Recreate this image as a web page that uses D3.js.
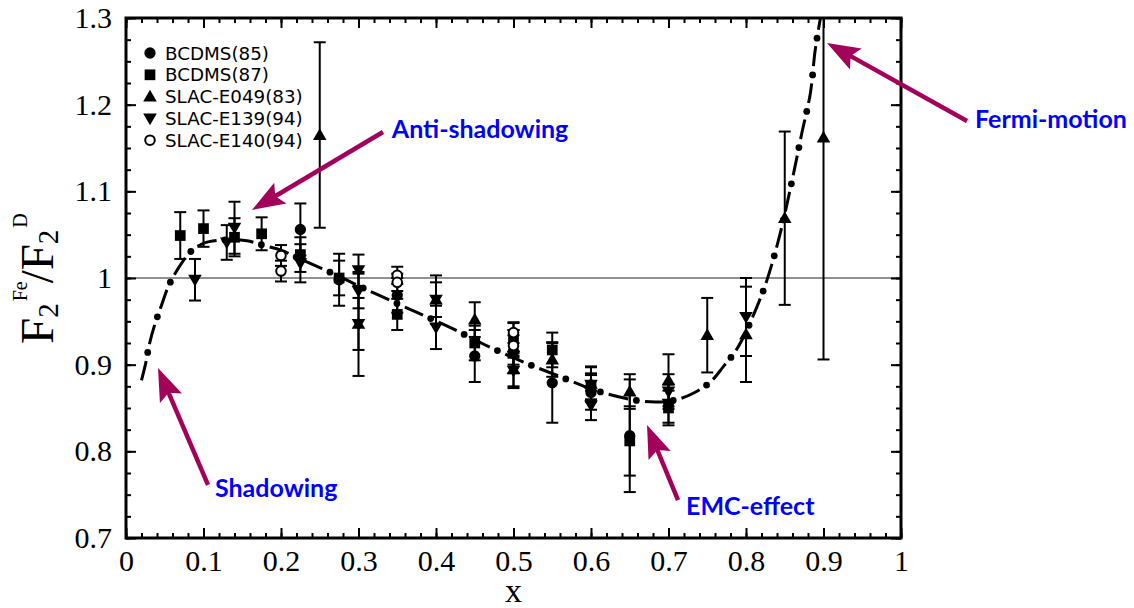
<!DOCTYPE html>
<html>
  <head>
    <meta charset="UTF-8">
    <title>F2 Fe / F2 D</title>
    <script src="https://d3js.org/d3.v7.min.js"></script>
    <style>
      body { margin: 0; background: #fff; }
    </style>
  </head>
  <body>
    <div id="chart-container"></div>
  <script type="text/javascript">

    // data: [x, ratio, error]
    const bcdms85 = [[0.225,1.056,0.03],[0.275,0.998,0.03],[0.35,0.980,0.02],[0.45,0.910,0.03],
                     [0.5,0.915,0.025],[0.55,0.879,0.046],[0.6,0.868,0.02],[0.65,0.818,0.065]];
    const bcdms87 = [[0.07,1.049,0.027],[0.1,1.057,0.021],[0.14,1.047,0.022],[0.175,1.051,0.019],
                     [0.225,1.027,0.02],[0.275,1.0,0.02],[0.35,0.958,0.018],[0.45,0.925,0.02],
                     [0.5,0.928,0.02],[0.55,0.917,0.02],[0.6,0.875,0.015],[0.65,0.812,0.04],[0.7,0.85,0.02]];
    const slac049 = [[0.25,1.165,0.107],[0.3,0.947,0.06],[0.4,0.975,0.028],[0.45,0.952,0.02],
                     [0.5,0.92,0.02],[0.5,0.895,0.02],[0.55,0.906,0.02],[0.6,0.878,0.02],[0.65,0.869,0.02],
                     [0.7,0.882,0.03],[0.75,0.934,0.043],[0.8,0.935,0.055],[0.85,1.069,0.1],[0.9,1.162,0.256]];
    const slac139 = [[0.089,0.998,0.024],[0.13,1.041,0.02],[0.14,1.058,0.03],[0.225,1.017,0.022],
                     [0.3,1.009,0.018],[0.3,0.985,0.02],[0.3,0.947,0.03],[0.4,0.975,0.02],[0.4,0.943,0.025],
                     [0.5,0.893,0.02],[0.6,0.877,0.02],[0.6,0.853,0.017],[0.7,0.869,0.02],
                     [0.7,0.855,0.022],[0.8,0.955,0.045]];
    const slac140 = [[0.2,1.026,0.012],[0.2,1.008,0.012],[0.35,1.003,0.01],[0.35,0.995,0.01],
                     [0.5,0.937,0.012],[0.5,0.922,0.012]];

    // theory curve
    const curveX = [0.02,0.025,0.03,0.037,0.046,0.055,0.068,0.083,0.1,0.13,0.156,0.18,0.2,0.225,0.25,
                    0.276,0.3,0.324,0.371,0.418,0.463,0.51,0.558,0.607,0.657,0.685,0.708,0.732,0.754,
                    0.771,0.786,0.799,0.82,0.829,0.844,0.861,0.872,0.883,0.889,0.893,0.897];
    const curveY = [0.882,0.90,0.923,0.946,0.969,0.991,1.012,1.030,1.040,1.044,1.043,1.037,1.032,1.022,1.012,
                    1.0015,0.991,0.981,0.962,0.943,0.923,0.904,0.887,0.870,0.859,0.857,0.859,0.867,0.880,
                    0.898,0.915,0.936,0.980,1.003,1.051,1.119,1.167,1.213,1.261,1.284,1.305];

    const legendNames = ["BCDMS(85)","BCDMS(87)","SLAC-E049(83)","SLAC-E139(94)","SLAC-E140(94)"];
    const xTicks = [0,0.1,0.2,0.3,0.4,0.5,0.6,0.7,0.8,0.9,1];
    const yTicks = [0.7,0.8,0.9,1,1.1,1.2,1.3];

    // annotations: label, text position, arrow tail, arrow tip (data units)
    const notes = [
      {label:"Anti-shadowing", tx:0.343, ty:1.1615, x0:0.3316, y0:1.1685, x1:0.1626, y1:1.0785},
      {label:"Shadowing",      tx:0.1148, ty:0.7473, x0:0.1058, y0:0.7612, x1:0.0413, y1:0.8962},
      {label:"EMC-effect",     tx:0.7226, ty:0.7265, x0:0.7123, y0:0.7438, x1:0.6723, y1:0.8304},
      {label:"Fermi-motion",   tx:1.0955, ty:1.1731, x0:1.0852, y0:1.1812, x1:0.9045, y1:1.2712}
    ];

    const width = 1134, height = 608;
    const margin = ({top: 18, right: 233, bottom: 70, left: 126});

    const x = d3.scaleLinear().domain([0,1]).range([margin.left, width - margin.right]);
    const y = d3.scaleLinear().domain([0.7,1.3]).range([height - margin.bottom, margin.top]);

    const svg = d3.select("#chart-container").append("svg")
        .attr("width", width).attr("height", height)
        .attr("viewBox", `0 0 ${width} ${height}`);

    svg.append("defs").append("clipPath").attr("id","plotclip")
      .append("rect").attr("x", x(0)).attr("y", y(1.3))
      .attr("width", x(1)-x(0)).attr("height", y(0.7)-y(1.3));

    // reference line at 1
    svg.append("line")
        .attr("x1", x(0)).attr("x2", x(1)).attr("y1", y(1)).attr("y2", y(1))
        .attr("stroke", "#222").attr("stroke-width", 1);

    // theory curve, dash-dot
    const plot = svg.append("g").attr("clip-path","url(#plotclip)");
    const line = d3.line().x(d => x(d[0])).y(d => y(d[1])).curve(d3.curveCatmullRom);
    const pts = curveX.map((v,i) => [v, curveY[i]]);
    const curvePath = plot.append("path")
        .attr("d", line(pts))
        .attr("fill","none").attr("stroke","#000").attr("stroke-width",3)
        .attr("stroke-dasharray","20 17");
    const node = curvePath.node();
    const total = node.getTotalLength();
    for (let l = 28.5; l < total; l += 37) {
        const p = node.getPointAtLength(l);
        plot.append("circle").attr("cx", p.x).attr("cy", p.y).attr("r", 3.4).attr("fill","#000");
    }

    // marker drawing
    const sym = {
      circle: d3.symbol().type(d3.symbolCircle).size(100),
      square: d3.symbol().type(d3.symbolSquare).size(115),
      tri:    d3.symbol().type(d3.symbolTriangle).size(80),
    };
    function marker(g, kind) {
      if (kind === "circle") g.append("path").attr("d", sym.circle()).attr("fill","#000");
      if (kind === "square") g.append("path").attr("d", sym.square()).attr("fill","#000");
      if (kind === "up") g.append("path").attr("d", sym.tri()).attr("fill","#000").attr("transform","translate(0,1)");
      if (kind === "down") g.append("path").attr("d", sym.tri()).attr("fill","#000").attr("transform","translate(0,-1) rotate(180)");
      if (kind === "open") g.append("circle").attr("r",4.8).attr("fill","#fff").attr("stroke","#000").attr("stroke-width",2);
    }

    const series = [
      {data: bcdms85, kind: "circle"},
      {data: bcdms87, kind: "square"},
      {data: slac049, kind: "up"},
      {data: slac139, kind: "down"},
      {data: slac140, kind: "open"}
    ];

    // error bars first
    series.forEach(s => {
      s.data.forEach(d => {
        const g = plot.append("g").attr("stroke","#000").attr("stroke-width",2);
        const top = y(d[1]+d[2]), bot = y(d[1]-d[2]), cx = x(d[0]);
        g.append("line").attr("x1",cx).attr("x2",cx).attr("y1",top).attr("y2",bot);
        g.append("line").attr("x1",cx-6).attr("x2",cx+6).attr("y1",top).attr("y2",top);
        g.append("line").attr("x1",cx-6).attr("x2",cx+6).attr("y1",bot).attr("y2",bot);
      });
    });
    series.forEach(s => {
      s.data.forEach(d => {
        const g = plot.append("g").attr("transform",`translate(${x(d[0])},${y(d[1])})`);
        marker(g, s.kind);
      });
    });

    // axes: ticks inward on all sides
    const minorX = d3.range(0, 1.0001, 0.02);
    const minorY = d3.range(0.7, 1.3001, 0.025);
    const axes = [
      [d3.axisBottom(x).tickValues(minorX).tickSize(-5).tickFormat(""), `translate(0,${y(0.7)})`],
      [d3.axisTop(x).tickValues(minorX).tickSize(-5).tickFormat(""), `translate(0,${y(1.3)})`],
      [d3.axisLeft(y).tickValues(minorY).tickSize(-5).tickFormat(""), `translate(${x(0)},0)`],
      [d3.axisRight(y).tickValues(minorY).tickSize(-5).tickFormat(""), `translate(${x(1)},0)`],
      [d3.axisTop(x).tickValues(xTicks).tickSize(-10).tickFormat(""), `translate(0,${y(1.3)})`],
      [d3.axisRight(y).tickValues(yTicks).tickSize(-10).tickFormat(""), `translate(${x(1)},0)`],
      [d3.axisBottom(x).tickValues(xTicks).tickSize(-10).tickPadding(12).tickFormat(d3.format("")), `translate(0,${y(0.7)})`],
      [d3.axisLeft(y).tickValues(yTicks).tickSize(-10).tickPadding(14).tickFormat(d3.format("")), `translate(${x(0)},0)`]
    ];
    axes.forEach(([ax, tr]) => {
      svg.append("g").attr("transform", tr).call(ax)
        .call(g => g.select(".domain").remove())
        .call(g => g.selectAll(".tick line").attr("stroke","#000").attr("stroke-width",2))
        .call(g => g.selectAll("text").attr("font-family","Liberation Serif").attr("font-size",30).attr("fill","#000"));
    });

    svg.append("rect")
        .attr("x", x(0)).attr("y", y(1.3))
        .attr("width", x(1)-x(0)).attr("height", y(0.7)-y(1.3))
        .attr("fill","none").attr("stroke","#000").attr("stroke-width",3);

    // axis titles
    svg.append("text")
        .attr("x", x(0.5)).attr("y", 602)
        .attr("text-anchor","middle")
        .attr("font-family","Liberation Serif").attr("font-size",34)
        .text("x");

    const yl = svg.append("text")
        .attr("transform", "translate(53,344) rotate(-90)")
        .attr("font-family","Liberation Serif").attr("font-size",47);
    yl.append("tspan").text("F");
    yl.append("tspan").attr("font-size",29).attr("dy",5).text("2");
    yl.append("tspan").attr("font-size",20).attr("dx",2).attr("dy",-31).text("Fe");
    yl.append("tspan").attr("dy",26).attr("dx",-2).text("/F");
    yl.append("tspan").attr("font-size",29).attr("dy",5).text("2");
    yl.append("tspan").attr("font-size",20).attr("dx",2).attr("dy",-31).text("D");

    // legend
    const legendKinds = ["circle","square","up","down","open"];
    legendNames.forEach((name, i) => {
      const ly = 53 + i * 21.8;
      const g = svg.append("g").attr("transform",`translate(150,${ly})`);
      marker(g, legendKinds[i]);
      svg.append("text")
        .attr("x", 165).attr("y", ly).attr("dy","0.36em")
        .attr("font-family","DejaVu Sans").attr("font-size",18.3)
        .text(name);
    });

    // annotations
    const arrowColor = "#a3005a";
    notes.forEach(n => {
      const xa = x(n.x0), ya = y(n.y0), xb = x(n.x1), yb = y(n.y1);
      const ang = Math.atan2(yb - ya, xb - xa);
      const headL = 27, headW = 12;
      const bx = xb - headL * Math.cos(ang), by = yb - headL * Math.sin(ang);
      svg.append("line")
        .attr("x1", xa).attr("y1", ya).attr("x2", bx + 4*Math.cos(ang)).attr("y2", by + 4*Math.sin(ang))
        .attr("stroke", arrowColor).attr("stroke-width", 4.5);
      const nx = -Math.sin(ang), ny = Math.cos(ang);
      const back = 6;
      svg.append("path")
        .attr("d", `M${xb},${yb} L${bx - back*Math.cos(ang) + headW*nx},${by - back*Math.sin(ang) + headW*ny} L${bx},${by} L${bx - back*Math.cos(ang) - headW*nx},${by - back*Math.sin(ang) - headW*ny} Z`)
        .attr("fill", arrowColor);
      svg.append("text")
        .attr("x", x(n.tx)).attr("y", y(n.ty))
        .attr("font-family","Lato").attr("font-weight","bold").attr("font-size",25)
        .attr("fill","#0000ff")
        .text(n.label);
    });
  </script>
  </body>
</html>
